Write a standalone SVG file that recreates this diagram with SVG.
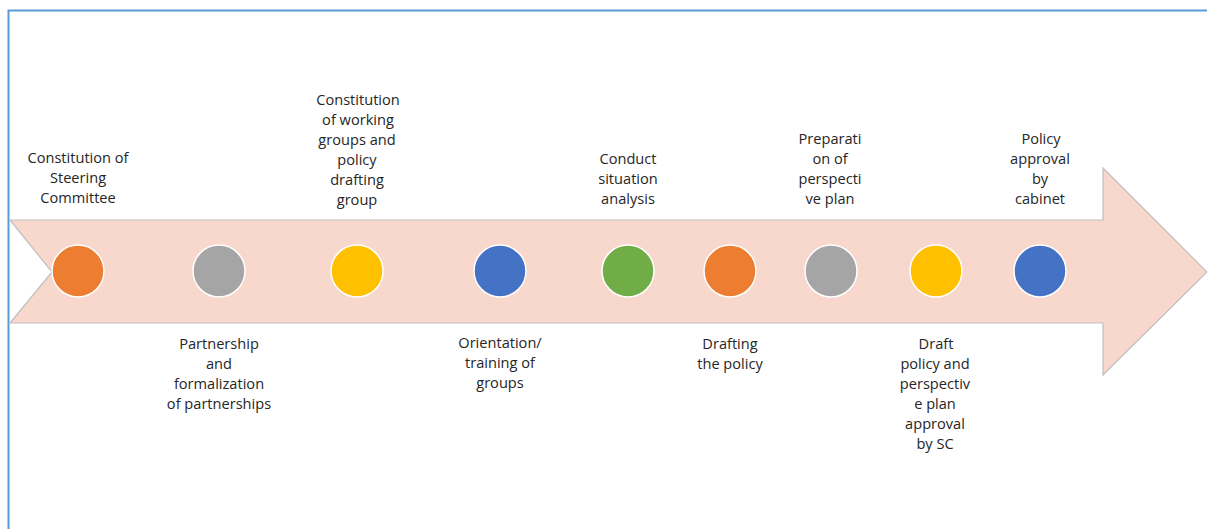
<svg xmlns="http://www.w3.org/2000/svg" width="1207" height="529" viewBox="0 0 1207 529">
<style>
.lbl{font-family:"Open Sans","Liberation Sans",Arial,sans-serif;font-size:14.6px;fill:#262626;text-anchor:middle}
.dot{stroke:#ffffff;stroke-width:1.5}
</style>
<rect x="0" y="0" width="1207" height="529" fill="#ffffff"/>
<path d="M8.5,600 V10.5 H1220" fill="none" stroke="#5b9bd5" stroke-width="2"/>
<g id="connectors">
<path id="arrow" d="M10,220 H1103 V168 L1207,272 L1103,375 V323 H10 L52,272 Z" fill="#f8d7cd" stroke="#bfbfbf" stroke-width="1.2"/>
</g>
<g id="n1"><circle class="dot" cx="78" cy="271" r="26" fill="#ed7d31"/>
<text class="lbl" x="78"><tspan x="78" y="163">Constitution of</tspan><tspan x="78" y="183">Steering</tspan><tspan x="78" y="203">Committee</tspan></text></g>
<g id="n2"><circle class="dot" cx="219" cy="271" r="26" fill="#a5a5a5"/>
<text class="lbl"><tspan x="219" y="349">Partnership</tspan><tspan x="219" y="369">and</tspan><tspan x="219" y="389">formalization</tspan><tspan x="219" y="409">of partnerships</tspan></text></g>
<g id="n3"><circle class="dot" cx="357" cy="271" r="26" fill="#ffc000"/>
<text class="lbl"><tspan x="358" y="105">Constitution</tspan><tspan x="358" y="125">of  working</tspan><tspan x="357" y="145">groups and</tspan><tspan x="357" y="165">policy</tspan><tspan x="357" y="185">drafting</tspan><tspan x="357" y="205">group</tspan></text></g>
<g id="n4"><circle class="dot" cx="500" cy="271" r="26" fill="#4472c4"/>
<text class="lbl"><tspan x="500" y="348">Orientation/</tspan><tspan x="500" y="368">training  of</tspan><tspan x="500" y="388">groups</tspan></text></g>
<g id="n5"><circle class="dot" cx="628" cy="271" r="26" fill="#70ad47"/>
<text class="lbl"><tspan x="628" y="164">Conduct</tspan><tspan x="628" y="184">situation</tspan><tspan x="628" y="204">analysis</tspan></text></g>
<g id="n6"><circle class="dot" cx="730" cy="271" r="26" fill="#ed7d31"/>
<text class="lbl"><tspan x="730" y="349">Drafting</tspan><tspan x="730" y="369">the policy</tspan></text></g>
<g id="n7"><circle class="dot" cx="831" cy="271" r="26" fill="#a5a5a5"/>
<text class="lbl"><tspan x="830" y="144">Preparati</tspan><tspan x="830" y="164">on of</tspan><tspan x="830" y="184">perspecti</tspan><tspan x="830" y="204">ve plan</tspan></text></g>
<g id="n8"><circle class="dot" cx="936" cy="271" r="26" fill="#ffc000"/>
<text class="lbl"><tspan x="936" y="349">Draft</tspan><tspan x="935" y="369">policy and</tspan><tspan x="935" y="389">perspectiv</tspan><tspan x="935" y="409">e plan</tspan><tspan x="935" y="429">approval</tspan><tspan x="935" y="449">by SC</tspan></text></g>
<g id="n9"><circle class="dot" cx="1040" cy="271" r="26" fill="#4472c4"/>
<text class="lbl"><tspan x="1041" y="144">Policy</tspan><tspan x="1040" y="164">approval</tspan><tspan x="1040" y="184">by</tspan><tspan x="1040" y="204">cabinet</tspan></text></g>
</svg>
